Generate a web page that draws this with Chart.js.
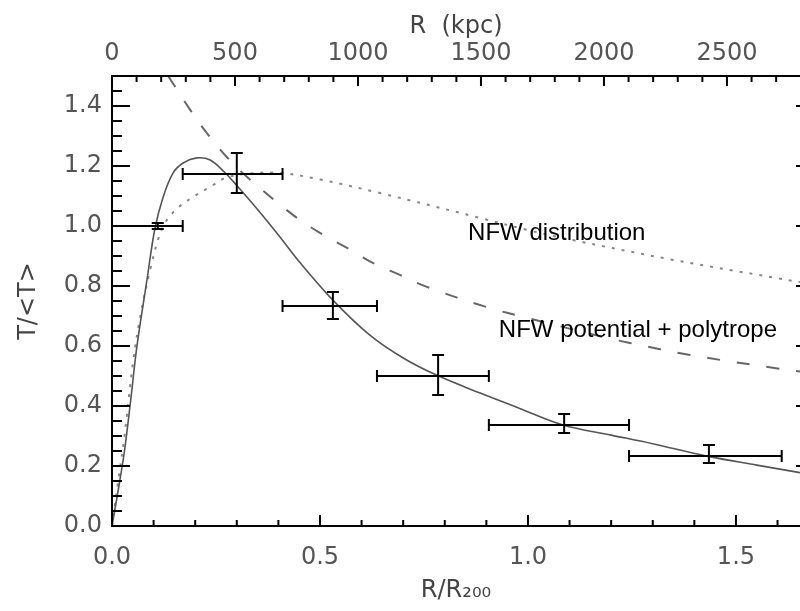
<!DOCTYPE html>
<html>
<head>
<meta charset="utf-8">
<script src="https://cdn.jsdelivr.net/npm/chart.js@4.4.1/dist/chart.umd.min.js"></script>
<style>
  html, body { margin: 0; padding: 0; background: #fff; }
</style>
</head>
<body>
<canvas id="myChart" width="800" height="611"></canvas>
<script>
// measured temperature profile, R/R200 and T/<T>
const pointX = [0.11, 0.30, 0.531, 0.784, 1.087, 1.435];
const pointY = [1.0, 1.173, 0.733, 0.50, 0.337, 0.233];
const xLow  = [0.0, 0.17, 0.41, 0.637, 0.906, 1.243];
const xHigh = [0.17, 0.41, 0.637, 0.906, 1.243, 1.61];
const yLow  = [0.99, 1.11, 0.69, 0.437, 0.31, 0.21];
const yHigh = [1.01, 1.243, 0.78, 0.57, 0.373, 0.27];

// solid model curve
const solidX = [0, 0.015, 0.03, 0.045, 0.06, 0.084, 0.103, 0.123, 0.147, 0.171, 0.204, 0.236, 0.27, 0.3, 0.35, 0.4, 0.452, 0.531, 0.62, 0.7, 0.78, 0.885, 0.98, 1.084, 1.2, 1.3, 1.43, 1.55, 1.654];
const solidY = [0, 0.12, 0.25, 0.42, 0.6, 0.82, 0.99, 1.097, 1.177, 1.21, 1.227, 1.22, 1.18, 1.135, 1.055, 0.97, 0.878, 0.753, 0.636, 0.56, 0.503, 0.443, 0.392, 0.337, 0.303, 0.274, 0.233, 0.203, 0.178];

// NFW distribution (dotted)
const dotX = [0, 0.015, 0.03, 0.05, 0.067, 0.091, 0.12, 0.15, 0.195, 0.236, 0.272, 0.33, 0.404, 0.5, 0.644, 0.885, 0.998, 1.108, 1.349, 1.5, 1.654];
const dotY = [0, 0.15, 0.3, 0.54, 0.69, 0.85, 0.99, 1.05, 1.097, 1.13, 1.16, 1.175, 1.177, 1.155, 1.11, 1.027, 0.987, 0.953, 0.887, 0.85, 0.813];

// NFW potential + polytrope (dashed)
const dashX = [0.135, 0.188, 0.228, 0.276, 0.325, 0.435, 0.5, 0.565, 0.627, 0.692, 0.757, 0.9, 1.0, 1.19, 1.245, 1.39, 1.6, 1.654];
const dashY = [1.5, 1.387, 1.31, 1.23, 1.163, 1.037, 0.977, 0.927, 0.877, 0.837, 0.797, 0.73, 0.693, 0.627, 0.61, 0.57, 0.525, 0.515];

// tick values (labelled ones are the majors)
const xTicks = [0, 0.1, 0.2, 0.3, 0.4, 0.5, 0.6, 0.7, 0.8, 0.9, 1.0, 1.1, 1.2, 1.3, 1.4, 1.5, 1.6];
const xLabels = [0, 0.5, 1.0, 1.5];
const kpcTicks = [0, 100, 200, 300, 400, 500, 600, 700, 800, 900, 1000, 1100, 1200, 1300, 1400, 1500,
  1600, 1700, 1800, 1900, 2000, 2100, 2200, 2300, 2400, 2500, 2600, 2700];
const kpcLabels = [0, 500, 1000, 1500, 2000, 2500];
const yTicks = [0, 0.05, 0.1, 0.15, 0.2, 0.25, 0.3, 0.35, 0.4, 0.45, 0.5, 0.55, 0.6, 0.65, 0.7, 0.75,
  0.8, 0.85, 0.9, 0.95, 1.0, 1.05, 1.1, 1.15, 1.2, 1.25, 1.3, 1.35, 1.4, 1.45, 1.5];
const yLabels = [0, 0.2, 0.4, 0.6, 0.8, 1.0, 1.2, 1.4];

const R200 = 1691; // kpc, for the top axis
const xMax = 1.654;

const pts = (xs, ys) => xs.map((v, i) => ({x: v, y: ys[i]}));
const isLabel = (list, v) => list.some(l => Math.abs(l - v) < 1e-6);
const setTicks = list => s => { s.ticks = list.map(v => ({value: v})); };

const tickFont = {family: 'DejaVu Sans', size: 24};
const tickColor = '#555';

const frame = {
  id: 'frame',
  afterDatasetsDraw(chart) {
    const {ctx, chartArea: a, scales} = chart;
    const x = scales.x, x2 = scales.x2, y = scales.y;
    ctx.save();
    ctx.strokeStyle = '#000';
    ctx.lineWidth = 2;

    // error bars
    const cap = 6;
    pointX.forEach((px, i) => {
      const cx = x.getPixelForValue(px), cy = y.getPixelForValue(pointY[i]);
      const x0 = x.getPixelForValue(xLow[i]), x1 = x.getPixelForValue(xHigh[i]);
      const y0 = y.getPixelForValue(yLow[i]), y1 = y.getPixelForValue(yHigh[i]);
      ctx.beginPath();
      ctx.moveTo(x0, cy); ctx.lineTo(x1, cy);
      ctx.moveTo(x0, cy - cap); ctx.lineTo(x0, cy + cap);
      ctx.moveTo(x1, cy - cap); ctx.lineTo(x1, cy + cap);
      ctx.moveTo(cx, y0); ctx.lineTo(cx, y1);
      ctx.moveTo(cx - cap, y0); ctx.lineTo(cx + cap, y0);
      ctx.moveTo(cx - cap, y1); ctx.lineTo(cx + cap, y1);
      ctx.stroke();
    });

    // axes box
    ctx.beginPath();
    ctx.moveTo(a.right, a.top); ctx.lineTo(a.left, a.top);
    ctx.lineTo(a.left, a.bottom); ctx.lineTo(a.right, a.bottom);
    ctx.stroke();

    // inward ticks
    ctx.beginPath();
    y.ticks.forEach(t => {
      const p = y.getPixelForValue(t.value);
      const big = isLabel(yLabels, t.value);
      ctx.moveTo(a.left, p); ctx.lineTo(a.left + (big ? 18 : 10), p);
      if (big) { ctx.moveTo(a.right, p); ctx.lineTo(a.right - 4, p); }
    });
    x.ticks.forEach(t => {
      const p = x.getPixelForValue(t.value);
      ctx.moveTo(p, a.bottom); ctx.lineTo(p, a.bottom - (isLabel(xLabels, t.value) ? 11 : 6));
    });
    x2.ticks.forEach(t => {
      const p = x2.getPixelForValue(t.value);
      ctx.moveTo(p, a.top); ctx.lineTo(p, a.top + (isLabel(kpcLabels, t.value) ? 10 : 6));
    });
    ctx.stroke();

    // curve labels
    ctx.fillStyle = '#000';
    ctx.font = '24px "Liberation Sans", Arial, sans-serif';
    ctx.textBaseline = 'alphabetic';
    ctx.textAlign = 'left';
    ctx.fillText('NFW distribution', x.getPixelForValue(0.856), y.getPixelForValue(0.953));
    ctx.fillText('NFW potential + polytrope', x.getPixelForValue(0.93), y.getPixelForValue(0.63));
    ctx.restore();
  }
};

new Chart(document.getElementById('myChart'), {
  type: 'scatter',
  data: {
    datasets: [
      {
        type: 'line', data: pts(solidX, solidY),
        borderColor: '#555', borderWidth: 1.6, pointRadius: 0, tension: 0.35
      },
      {
        type: 'line', data: pts(dotX, dotY),
        borderColor: '#888', borderWidth: 2, borderDash: [3, 7], pointRadius: 0, tension: 0.35
      },
      {
        type: 'line', data: pts(dashX, dashY),
        borderColor: '#666', borderWidth: 2, borderDash: [13, 17], pointRadius: 0, tension: 0.35
      },
      {
        data: pts(pointX, pointY), pointRadius: 0, showLine: false
      }
    ]
  },
  options: {
    responsive: false,
    animation: false,
    layout: {padding: 0},
    plugins: {legend: {display: false}, tooltip: {enabled: false}},
    scales: {
      x: {
        type: 'linear', position: 'bottom', min: 0, max: xMax,
        grid: {display: false, drawTicks: false}, border: {display: false},
        afterBuildTicks: setTicks(xTicks),
        ticks: {
          autoSkip: false, maxRotation: 0,
          padding: 17, font: tickFont, color: tickColor,
          callback: v => isLabel(xLabels, v) ? v.toFixed(1) : ''
        },
        title: {display: true, text: 'R/R\u2082\u2080\u2080', font: tickFont, color: '#444', padding: {top: 0, bottom: 6}},
        afterFit: s => { s.height = 85; }
      },
      x2: {
        type: 'linear', position: 'top', min: 0, max: xMax * R200,
        grid: {display: false, drawTicks: false}, border: {display: false},
        afterBuildTicks: setTicks(kpcTicks),
        ticks: {
          autoSkip: false, maxRotation: 0,
          padding: 8, font: tickFont, color: tickColor,
          callback: v => isLabel(kpcLabels, v) ? String(v) : ''
        },
        title: {display: true, text: 'R  (kpc)', font: tickFont, color: '#444', padding: {top: 12, bottom: 0}},
        afterFit: s => { s.height = 76; }
      },
      y: {
        type: 'linear', position: 'left', min: 0, max: 1.5,
        grid: {display: false, drawTicks: false}, border: {display: false},
        afterBuildTicks: setTicks(yTicks),
        ticks: {
          autoSkip: false,
          padding: 10, font: tickFont, color: tickColor,
          callback: v => isLabel(yLabels, v) ? v.toFixed(1) : ''
        },
        title: {display: true, text: 'T/<T>', font: tickFont, color: '#444', padding: {top: 14, bottom: 0}},
        afterFit: s => { s.width = 112; }
      }
    }
  },
  plugins: [frame]
});
</script>
</body>
</html>
